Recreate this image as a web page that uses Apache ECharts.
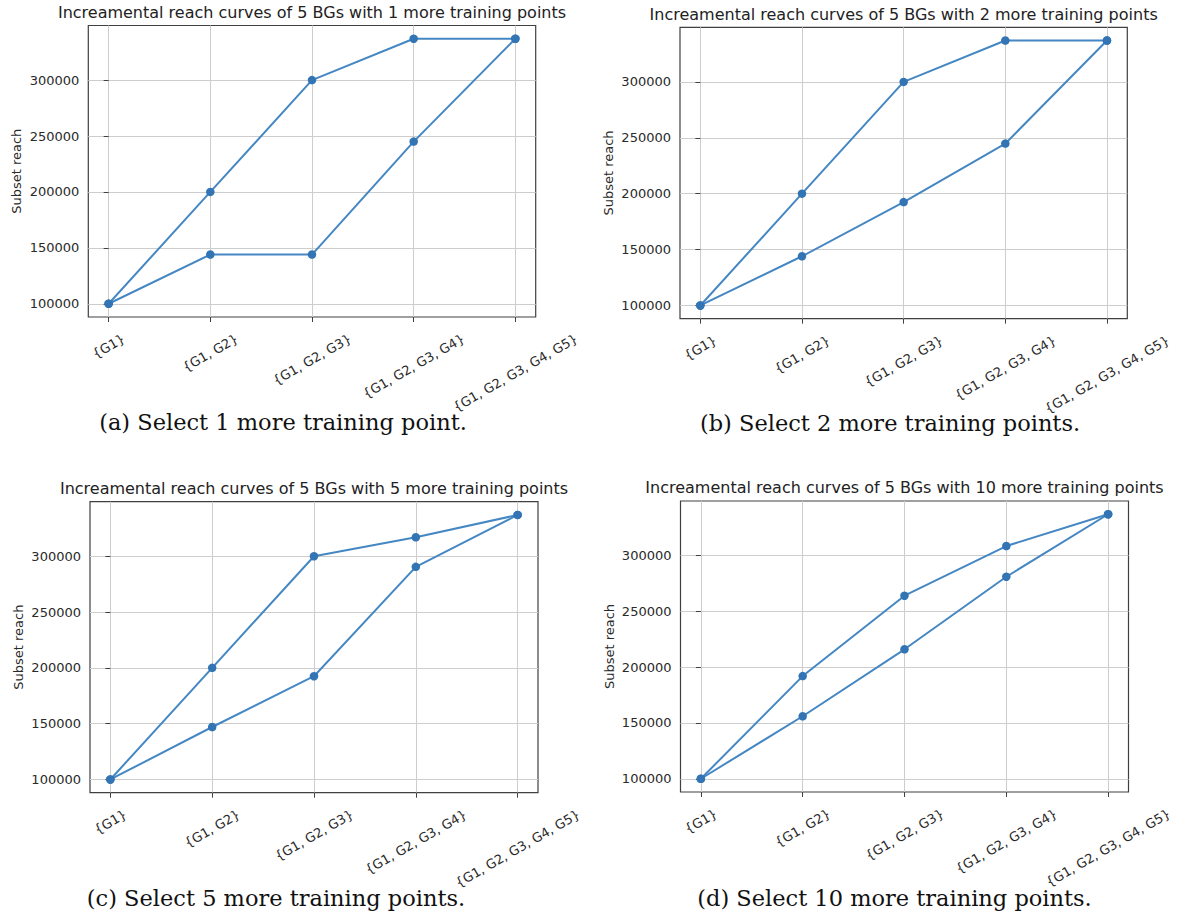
<!DOCTYPE html>
<html><head><meta charset="utf-8">
<script src="https://cdn.jsdelivr.net/npm/echarts@6/dist/echarts.min.js"></script>
<style>html,body{margin:0;padding:0;background:#fff}#c{width:1178px;height:916px}</style>
</head><body><div id="c"></div>
<script>
// ---- data ----
const categories = ['{G1}', '{G1, G2}', '{G1, G2, G3}', '{G1, G2, G3, G4}', '{G1, G2, G3, G4, G5}'];
const yTickValues = [100000, 150000, 200000, 250000, 300000];
const xTickValues = [0, 1, 2, 3, 4];
const upperA = [100000, 200000, 300000, 337000, 337000];
const lowerA = [100000, 144000, 144000, 245000, 337000];
const upperB = [100000, 200000, 300000, 337000, 337000];
const lowerB = [100000, 144000, 192500, 244800, 337000];
const upperC = [100000, 200000, 300000, 317000, 337000];
const lowerC = [100000, 147000, 192500, 290500, 337000];
const upperD = [100000, 192000, 264000, 308500, 337000];
const lowerD = [100000, 156000, 216000, 281000, 337000];
const plotTitles = [
  'Increamental reach curves of 5 BGs with 1 more training points',
  'Increamental reach curves of 5 BGs with 2 more training points',
  'Increamental reach curves of 5 BGs with 5 more training points',
  'Increamental reach curves of 5 BGs with 10 more training points'
];
const captions = [
  '(a) Select 1 more training point.',
  '(b) Select 2 more training points.',
  '(c) Select 5 more training points.',
  '(d) Select 10 more training points.'
];
const yAxisName = 'Subset reach';

// ---- layout ----
const grids = [
  {left: 88.3, top: 25.5, width: 447.4, height: 291.5},
  {left: 680, top: 27.3, width: 447.3, height: 291.4},
  {left: 90, top: 501.7, width: 448, height: 291},
  {left: 680.5, top: 501, width: 448, height: 291}
];
const titleY = [12.5, 14, 488, 487.5];
const captionPos = [[283, 422], [890, 423], [276, 898], [894.5, 898]];
const yMin = 88150, yMax = 348850;
const seriesPairs = [[upperA, lowerA], [upperB, lowerB], [upperC, lowerC], [upperD, lowerD]];

const FONT = '"DejaVu Sans", sans-serif';
const TICK_FS = 13, TEXT_H = 15, LABEL_PAD = 14;
const LABEL_COLOR = '#2a2a2a';
const ROT = Math.PI / 6;

const option = {
  animation: false,
  backgroundColor: '#fff',
  grid: grids.map(g => Object.assign({show: true, borderColor: '#404040', borderWidth: 1.2, backgroundColor: 'transparent', containLabel: false, outerBoundsMode: 'none'}, g)),
  xAxis: grids.map((g, k) => ({
    type: 'value', gridIndex: k, min: -0.2, max: 4.2,
    axisLine: {show: false},
    axisTick: {show: true, length: 5, customValues: xTickValues, lineStyle: {color: '#404040', width: 1}},
    axisLabel: {show: false, customValues: xTickValues},
    splitLine: {show: true, lineStyle: {color: '#cdcdcd', width: 1}}
  })),
  yAxis: grids.map((g, k) => ({
    type: 'value', gridIndex: k, min: yMin, max: yMax,
    name: yAxisName, nameLocation: 'middle', nameRotate: 90, nameGap: 65,
    nameTextStyle: {color: LABEL_COLOR, fontSize: TICK_FS, fontFamily: FONT},
    axisLine: {show: false},
    axisTick: {show: true, length: 5, customValues: yTickValues, lineStyle: {color: '#404040', width: 1}},
    axisLabel: {customValues: yTickValues, margin: 9, color: LABEL_COLOR, fontSize: TICK_FS, fontFamily: FONT, formatter: v => String(v)},
    splitLine: {show: true, lineStyle: {color: '#cdcdcd', width: 1}}
  })),
  series: [],
  graphic: []
};

seriesPairs.forEach((pair, k) => {
  pair.forEach(vals => {
    option.series.push({
      type: 'line', xAxisIndex: k, yAxisIndex: k,
      data: vals.map((v, i) => [i, v]),
      symbol: 'circle', symbolSize: 8.5, showSymbol: true,
      lineStyle: {color: '#4587c3', width: 2},
      itemStyle: {color: '#3274b4'},
      emphasis: {disabled: true}
    });
  });
  const g = grids[k];
  option.graphic.push({
    type: 'text', x: g.left + g.width / 2, y: titleY[k],
    style: {text: plotTitles[k], fill: '#222', font: '16px ' + FONT, align: 'center', verticalAlign: 'middle'}
  });
  option.graphic.push({
    type: 'text', x: captionPos[k][0], y: captionPos[k][1],
    style: {text: captions[k], fill: '#111', font: '22.5px "DejaVu Serif", serif', align: 'center', verticalAlign: 'middle'}
  });
});

const chart = echarts.init(document.getElementById('c'), null, {renderer: 'svg', width: 1178, height: 916});
chart.setOption(option);

// rotated x tick labels, centred under each tick like matplotlib (rotation=30, ha='center')
const ctx = document.createElement('canvas').getContext('2d');
ctx.font = TICK_FS + 'px "DejaVu Sans"';
const labelEls = [];
grids.forEach((g, k) => {
  const axisY = chart.convertToPixel({yAxisIndex: k}, yMin);
  xTickValues.forEach(i => {
    const text = categories[i];
    const w = ctx.measureText(text).width;
    const H = w * Math.sin(ROT) + TEXT_H * Math.cos(ROT);
    const px = chart.convertToPixel({xAxisIndex: k}, i);
    labelEls.push({
      type: 'text', x: px, y: axisY + LABEL_PAD + H / 2, rotation: ROT,
      style: {text: text, fill: LABEL_COLOR, font: TICK_FS + 'px ' + FONT, align: 'center', verticalAlign: 'middle'}
    });
  });
});
chart.setOption({graphic: option.graphic.concat(labelEls)});
</script>
</body></html>
